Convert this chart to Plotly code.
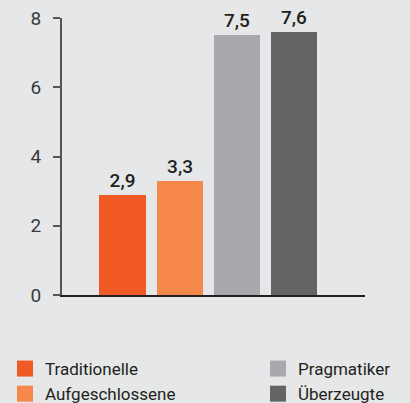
import plotly.graph_objects as go

categories = ["Traditionelle", "Aufgeschlossene", "Pragmatiker", "Überzeugte"]
values = [2.9, 3.3, 7.5, 7.6]
labels = ["2,9", "3,3", "7,5", "7,6"]
colors = ["#f15a24", "#f68849", "#a7a9ac", "#636466"]
y_ticks = [0, 2, 4, 6, 8]
legend_column = ["legend", "legend", "legend2", "legend2"]

BG = "#e6e7e8"
FONT = "Roboto"

fig = go.Figure()
fig.add_trace(go.Bar(
    x=list(range(len(categories))),
    y=values,
    marker=dict(color=colors, line=dict(width=0)),
    width=0.81,
    text=labels,
    textposition="outside",
    textfont=dict(family=FONT, size=19, color="#231f20", weight=500),
    cliponaxis=False,
    showlegend=False,
    hoverinfo="skip",
))
for i in range(len(categories)):
    fig.add_trace(go.Scatter(
        x=[None], y=[None], mode="markers",
        marker=dict(symbol="square", size=16, color=colors[i]),
        name=categories[i],
        legend=legend_column[i],
        showlegend=True,
    ))

legend_style = dict(
    orientation="v",
    xref="container", yref="container",
    xanchor="left", yanchor="top",
    y=0.129,
    font=dict(family=FONT, size=17, color="#231f20"),
    itemsizing="trace",
    tracegroupgap=0,
    bgcolor="rgba(0,0,0,0)",
)

fig.update_layout(
    width=410, height=403,
    paper_bgcolor=BG, plot_bgcolor=BG,
    margin=dict(l=62, r=45, t=17.5, b=107.5, autoexpand=False),
    font=dict(family=FONT, color="#231f20"),
    bargap=0,
    legend=dict(x=5 / 410, **legend_style),
    legend2=dict(x=258 / 410, **legend_style),
    xaxis=dict(
        range=[-1.06, 4.24],
        showticklabels=False, ticks="",
        showgrid=False, zeroline=False,
        showline=True, linecolor="#231f20", linewidth=2,
        fixedrange=True,
    ),
    yaxis=dict(
        range=[0, 8],
        tickvals=y_ticks,
        ticktext=[str(v) for v in y_ticks],
        ticks="outside", ticklen=7, tickwidth=2, tickcolor="#555555",
        tickfont=dict(family=FONT, size=19, color="#3a3a3a"),
        ticklabelstandoff=8,
        showgrid=False, zeroline=False,
        showline=True, linecolor="#555555", linewidth=2,
        fixedrange=True,
    ),
)

fig.write_html(
    "out.html",
    config={"displayModeBar": False},
    post_script="document.body.style.margin='0';document.body.style.background='#e6e7e8';document.body.style.overflow='hidden';",
)
